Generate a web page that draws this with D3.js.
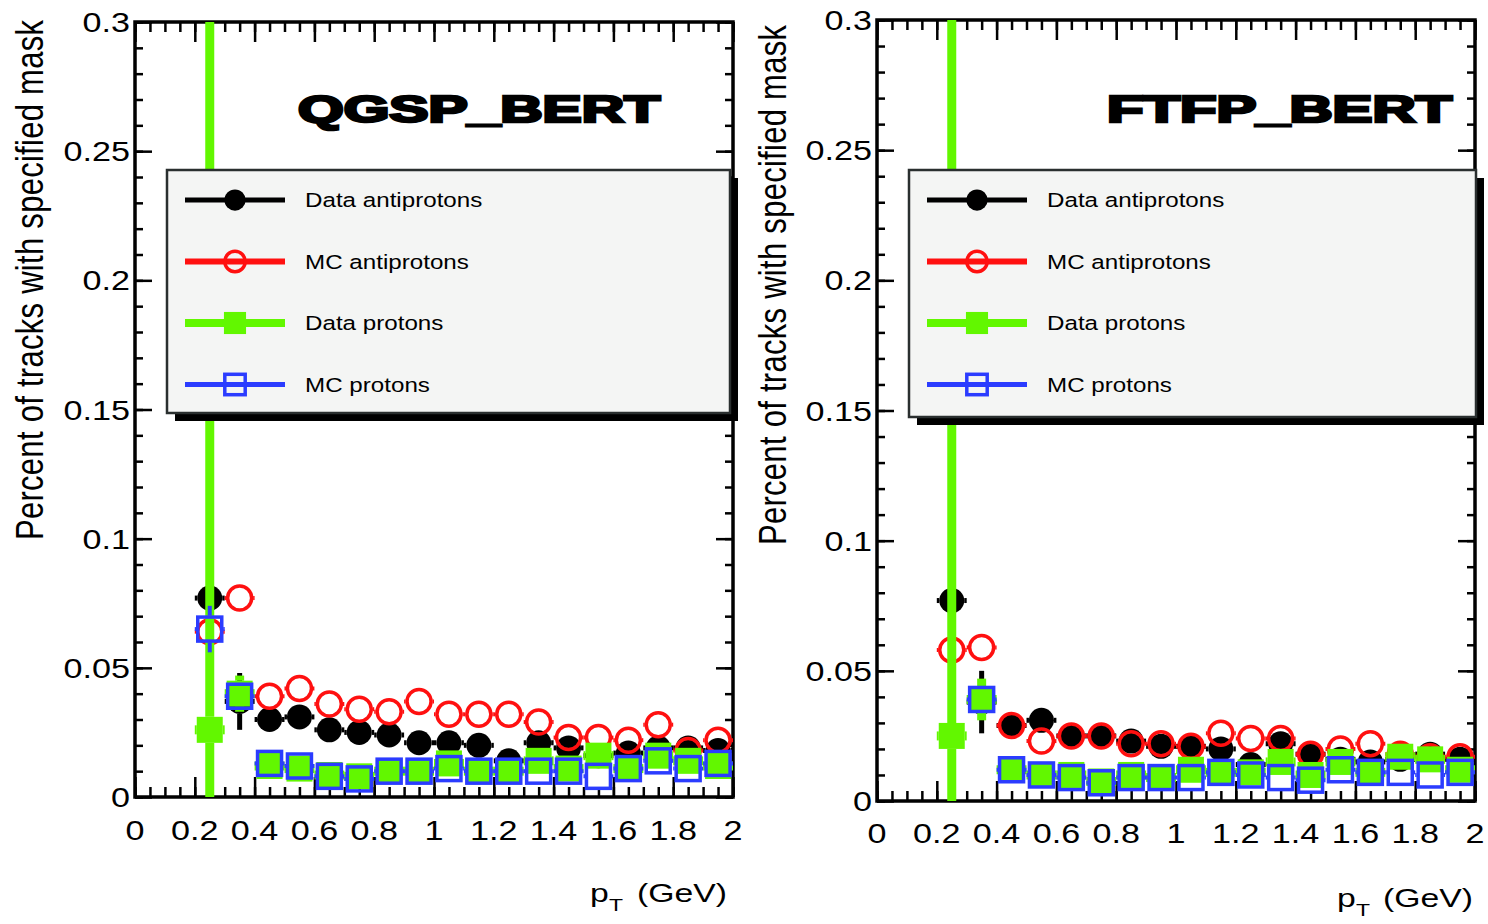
<!DOCTYPE html>
<html>
<head>
<meta charset="utf-8">
<script src="https://cdn.jsdelivr.net/npm/d3@7/dist/d3.min.js"></script>
<style>
  body { margin: 0; background: #fff; }
  svg { display: block; }
  text { font-family: "Liberation Sans", Arial, Helvetica, sans-serif; fill: #000; }
</style>
</head>
<body>
<div id="chart"></div>
<script>
// pT bin centres (GeV)
var pt = [0.25, 0.35, 0.45, 0.55, 0.65, 0.75, 0.85, 0.95, 1.05, 1.15, 1.25, 1.35, 1.45, 1.55, 1.65, 1.75, 1.85, 1.95];

// QGSP_BERT panel
var qgspDataAnti = [0.077, 0.037, 0.030, 0.031, 0.026, 0.025, 0.024, 0.021, 0.021, 0.020, 0.014, 0.021, 0.019, 0.016, 0.017, 0.019, 0.019, 0.018];
var qgspMcAnti   = [0.064, 0.077, 0.039, 0.042, 0.036, 0.034, 0.033, 0.037, 0.032, 0.032, 0.032, 0.029, 0.023, 0.023, 0.022, 0.028, 0.018, 0.022];
var qgspDataProt = [0.026, 0.040, 0.012, 0.011, 0.0085, 0.008, 0.010, 0.010, 0.013, 0.010, 0.010, 0.014, 0.011, 0.016, 0.011, 0.016, 0.014, 0.012];
var qgspMcProt   = [0.065, 0.039, 0.013, 0.012, 0.008, 0.007, 0.010, 0.010, 0.011, 0.010, 0.010, 0.010, 0.010, 0.008, 0.011, 0.014, 0.011, 0.013];
var qgspErrDataAnti = [0.003, 0.011, 0.002, 0.002, 0.002, 0.002, 0.002, 0.002, 0.002, 0.002, 0.002, 0.002, 0.002, 0.002, 0.002, 0.002, 0.002, 0.002];
var qgspErrMcAnti   = [0.002, 0.003, 0.002, 0.002, 0.002, 0.002, 0.002, 0.002, 0.002, 0.002, 0.002, 0.002, 0.002, 0.002, 0.002, 0.002, 0.002, 0.002];
var qgspErrDataProt = [0.3, 0.007, 0.002, 0.002, 0.002, 0.002, 0.002, 0.002, 0.002, 0.002, 0.002, 0.002, 0.002, 0.002, 0.002, 0.002, 0.002, 0.002];
var qgspErrMcProt   = [0.009, 0.004, 0.001, 0.001, 0.001, 0.001, 0.001, 0.001, 0.001, 0.001, 0.001, 0.001, 0.001, 0.001, 0.001, 0.001, 0.001, 0.001];

// FTFP_BERT panel
var ftfpDataAnti = [0.077, 0.038, 0.029, 0.031, 0.025, 0.025, 0.023, 0.021, 0.021, 0.020, 0.014, 0.022, 0.018, 0.016, 0.015, 0.016, 0.018, 0.016];
var ftfpMcAnti   = [0.058, 0.059, 0.029, 0.023, 0.025, 0.025, 0.022, 0.022, 0.021, 0.026, 0.024, 0.024, 0.018, 0.020, 0.022, 0.018, 0.017, 0.017];
var ftfpDataProt = [0.025, 0.039, 0.012, 0.010, 0.010, 0.0075, 0.010, 0.009, 0.012, 0.011, 0.011, 0.015, 0.010, 0.015, 0.011, 0.017, 0.016, 0.012];
var ftfpMcProt   = [null, 0.039, 0.012, 0.010, 0.009, 0.007, 0.009, 0.009, 0.009, 0.011, 0.010, 0.009, 0.008, 0.012, 0.011, 0.011, 0.010, 0.011];
var ftfpErrDataAnti = [0.003, 0.012, 0.002, 0.002, 0.002, 0.002, 0.002, 0.002, 0.002, 0.002, 0.002, 0.002, 0.002, 0.002, 0.002, 0.002, 0.002, 0.002];
var ftfpErrMcAnti   = [0.002, 0.003, 0.002, 0.002, 0.002, 0.002, 0.002, 0.002, 0.002, 0.002, 0.002, 0.002, 0.002, 0.002, 0.002, 0.002, 0.002, 0.002];
var ftfpErrDataProt = [0.3, 0.008, 0.002, 0.002, 0.002, 0.002, 0.002, 0.002, 0.002, 0.002, 0.002, 0.002, 0.002, 0.002, 0.002, 0.002, 0.002, 0.002];
var ftfpErrMcProt   = [0.002, 0.004, 0.001, 0.001, 0.001, 0.001, 0.001, 0.001, 0.001, 0.001, 0.001, 0.001, 0.001, 0.001, 0.001, 0.001, 0.001, 0.001];

// axes
var yTicks = [0, 0.05, 0.1, 0.15, 0.2, 0.25, 0.3];
var yTickLabels = ["0", "0.05", "0.1", "0.15", "0.2", "0.25", "0.3"];
var xTicks = [0, 0.2, 0.4, 0.6, 0.8, 1, 1.2, 1.4, 1.6, 1.8, 2];
var xTickLabels = ["0", "0.2", "0.4", "0.6", "0.8", "1", "1.2", "1.4", "1.6", "1.8", "2"];
var legendLabels = ["Data antiprotons", "MC antiprotons", "Data protons", "MC protons"];
var panelTitles = ["QGSP_BERT", "FTFP_BERT"];
var yTitle = "Percent of tracks with specified mask";

var svgWidth = 1488, svgHeight = 924;
var halfBin = 0.05;

var svg = d3.select("#chart").append("svg")
  .attr("width", svgWidth)
  .attr("height", svgHeight);

// series styles, drawn in this order
var styles = [
  { color: "#000000", shape: "circle", open: false, ew: 5, lw: 5, half: 12.5 },
  { color: "#ff1010", shape: "circle", open: true,  ew: 4, lw: 6, half: 13.5 },
  { color: "#62f700", shape: "square", open: false, ew: 9, lw: 8, half: 13 },
  { color: "#2b3cff", shape: "square", open: true,  ew: 4, lw: 5, half: 13.5 }
];

var panels = [
  { x0: 135, x1: 733, y0: 797, y1: 22, title: panelTitles[0], titleX: 298, titleW: 362,
    leg: { x: 167, y: 170, w: 563, h: 243 },
    yLabX: 130, xLabY: 840, yTitleX: 43, yTitleY: 540, pX: 590, gevX: 727, pY: 902,
    values: [qgspDataAnti, qgspMcAnti, qgspDataProt, qgspMcProt],
    errors: [qgspErrDataAnti, qgspErrMcAnti, qgspErrDataProt, qgspErrMcProt] },
  { x0: 877, x1: 1475, y0: 801, y1: 20, title: panelTitles[1], titleX: 1107, titleW: 345,
    leg: { x: 909, y: 170, w: 567, h: 247 },
    yLabX: 872, xLabY: 843, yTitleX: 786, yTitleY: 545, pX: 1337, gevX: 1473, pY: 907,
    values: [ftfpDataAnti, ftfpMcAnti, ftfpDataProt, ftfpMcProt],
    errors: [ftfpErrDataAnti, ftfpErrMcAnti, ftfpErrDataProt, ftfpErrMcProt] }
];

function drawMarker(sel, st, cx, cy, scale) {
  scale = scale || 1;
  if (st.shape === "circle") {
    sel.append("circle")
      .attr("cx", cx).attr("cy", cy)
      .attr("r", (st.open ? 12 : 12.5) * scale)
      .attr("fill", st.open ? "none" : st.color)
      .attr("stroke", st.color)
      .attr("stroke-width", st.open ? 3.5 : 0);
  } else {
    var s = (st.open ? 24 : 26) * scale;
    sel.append("rect")
      .attr("x", cx - s / 2).attr("y", cy - s / 2)
      .attr("width", s).attr("height", s)
      .attr("fill", st.open ? "none" : st.color)
      .attr("stroke", st.color)
      .attr("stroke-width", st.open ? 3.5 : 0);
  }
}

function seg(sel, st, x1, y1, x2, y2) {
  sel.append("line")
    .attr("x1", x1).attr("y1", y1).attr("x2", x2).attr("y2", y2)
    .attr("stroke", st.color).attr("stroke-width", st.ew);
}

panels.forEach(function(p, pi) {
  var x = d3.scaleLinear().domain([0, 2]).range([p.x0, p.x1]);
  var y = d3.scaleLinear().domain([0, 0.3]).range([p.y0, p.y1]);
  var g = svg.append("g");

  var clipId = "clip" + pi;
  svg.append("defs").append("clipPath").attr("id", clipId)
    .append("rect")
    .attr("x", p.x0).attr("y", p.y1)
    .attr("width", p.x1 - p.x0).attr("height", p.y0 - p.y1);

  // ticks on all four sides, pointing inward
  var yMinor = y.ticks(30), xMinor = x.ticks(40);
  var axes = [
    [d3.axisLeft(y).tickValues(yMinor).tickSize(-8), `translate(${p.x0},0)`],
    [d3.axisLeft(y).tickValues(yTicks).tickSize(-17), `translate(${p.x0},0)`],
    [d3.axisRight(y).tickValues(yMinor).tickSize(-8), `translate(${p.x1},0)`],
    [d3.axisRight(y).tickValues(yTicks).tickSize(-17), `translate(${p.x1},0)`],
    [d3.axisBottom(x).tickValues(xMinor).tickSize(-10), `translate(0,${p.y0})`],
    [d3.axisBottom(x).tickValues(xTicks).tickSize(-20), `translate(0,${p.y0})`],
    [d3.axisTop(x).tickValues(xMinor).tickSize(-10), `translate(0,${p.y1})`],
    [d3.axisTop(x).tickValues(xTicks).tickSize(-20), `translate(0,${p.y1})`]
  ];
  axes.forEach(function(a) {
    var ag = g.append("g").attr("transform", a[1]).call(a[0].tickFormat(""));
    ag.select(".domain").remove();
    ag.selectAll("line").attr("stroke", "#000").attr("stroke-width", 2.5);
  });

  // frame
  g.append("rect")
    .attr("x", p.x0).attr("y", p.y1)
    .attr("width", p.x1 - p.x0).attr("height", p.y0 - p.y1)
    .attr("fill", "none").attr("stroke", "#000").attr("stroke-width", 3.5);

  // tick labels
  g.selectAll(".ylab").data(yTicks).enter().append("text")
    .attr("transform", (d) => `translate(${p.yLabX},${y(d) + 10}) scale(1.22,1)`)
    .attr("text-anchor", "end")
    .style("font-size", "28px")
    .text((d, i) => yTickLabels[i]);

  g.selectAll(".xlab").data(xTicks).enter().append("text")
    .attr("transform", (d) => `translate(${x(d)},${p.xLabY}) scale(1.22,1)`)
    .attr("text-anchor", "middle")
    .style("font-size", "28px")
    .text((d, i) => xTickLabels[i]);

  // axis titles
  g.append("text")
    .attr("transform", `translate(${p.yTitleX},${p.yTitleY}) scale(1.25,1) rotate(-90)`)
    .attr("textLength", 520)
    .attr("lengthAdjust", "spacing")
    .style("font-size", "31px")
    .text(yTitle);

  g.append("text")
    .attr("transform", `translate(${p.pX},${p.pY}) scale(1.35,1)`)
    .style("font-size", "25px")
    .text("p");
  g.append("text")
    .attr("transform", `translate(${p.pX + 19},${p.pY + 9}) scale(1.35,1)`)
    .style("font-size", "17px")
    .text("T");
  g.append("text")
    .attr("transform", `translate(${p.gevX},${p.pY}) scale(1.35,1)`)
    .attr("text-anchor", "end")
    .style("font-size", "25px")
    .text("(GeV)");

  // data: error bars stop at the marker edge, as ROOT does
  var dg = g.append("g").attr("clip-path", `url(#${clipId})`);
  styles.forEach(function(st, si) {
    var pts = pt.map((v, i) => ({ x: v, v: p.values[si][i], e: p.errors[si][i] }))
      .filter((d) => d.v != null);
    var sg = dg.append("g");
    pts.forEach(function(d) {
      var cx = x(d.x), cy = y(d.v), h = st.half;
      seg(sg, st, x(d.x - halfBin), cy, cx - h, cy);
      seg(sg, st, cx + h, cy, x(d.x + halfBin), cy);
      if (y(d.v + d.e) < cy - h) seg(sg, st, cx, y(d.v + d.e), cx, cy - h);
      if (y(d.v - d.e) > cy + h) seg(sg, st, cx, cy + h, cx, y(d.v - d.e));
      drawMarker(sg, st, cx, cy);
    });
  });

  // title
  g.append("text")
    .attr("x", p.titleX).attr("y", 122)
    .attr("textLength", p.titleW)
    .attr("lengthAdjust", "spacingAndGlyphs")
    .style("font-size", "37px")
    .style("font-weight", "bold")
    .style("stroke", "#000").style("stroke-width", 2.6)
    .text(p.title);

  // legend
  var L = p.leg;
  g.append("rect")
    .attr("x", L.x + 8).attr("y", L.y + 8)
    .attr("width", L.w).attr("height", L.h)
    .attr("fill", "#000");
  g.append("rect")
    .attr("x", L.x).attr("y", L.y)
    .attr("width", L.w).attr("height", L.h)
    .attr("fill", "#f4f5f4").attr("stroke", "#2a2f2f").attr("stroke-width", 2.5);

  legendLabels.forEach(function(lab, i) {
    var st = styles[i];
    var ry = L.y + 30 + i * 61.5;
    g.append("line")
      .attr("x1", L.x + 18).attr("x2", L.x + 118)
      .attr("y1", ry).attr("y2", ry)
      .attr("stroke", st.color).attr("stroke-width", st.lw);
    drawMarker(g, st, L.x + 68, ry, 0.85);
    g.append("text")
      .attr("transform", `translate(${L.x + 138},${ry + 7}) scale(1.24,1)`)
      .style("font-size", "19.5px")
      .text(lab);
  });
});
</script>
</body>
</html>
